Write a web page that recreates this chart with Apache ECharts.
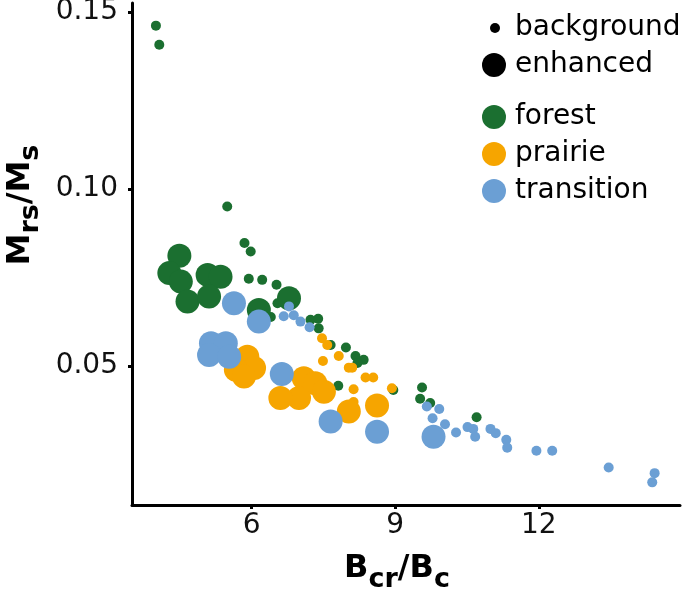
<!DOCTYPE html>
<html>
<head>
<meta charset="utf-8">
<script src="https://cdn.jsdelivr.net/npm/echarts@6/dist/echarts.min.js"></script>
<style>html,body{margin:0;padding:0;background:#fff}#c{width:685px;height:595px}</style>
</head>
<body>
<div id="c"></div>
<script>
// ---- data (x = Bcr/Bc, y = Mrs/Ms) ----
var forestBackground = [[4.00,0.1461],[4.07,0.1407],[5.49,0.0950],[5.85,0.0847],[5.98,0.0823],[5.94,0.0746],[6.22,0.0743],[6.52,0.0729],[6.54,0.0677],[6.40,0.0638],[7.23,0.0630],[7.39,0.0633],[7.40,0.0606],[7.65,0.0559],[7.97,0.0552],[8.17,0.0528],[8.34,0.0517],[8.21,0.0508],[7.81,0.0444],[8.96,0.0432],[9.56,0.0439],[9.52,0.0407],[9.73,0.0395],[10.70,0.0355]];
var forestEnhanced = [[4.49,0.0811],[4.28,0.0762],[4.52,0.0738],[4.66,0.0682],[5.08,0.0757],[5.35,0.0752],[5.11,0.0696],[6.15,0.0658],[6.78,0.0691]];
var prairieBackground = [[7.47,0.0578],[7.58,0.0559],[7.49,0.0514],[7.82,0.0528],[8.03,0.0495],[8.10,0.0495],[8.38,0.0467],[8.54,0.0467],[8.13,0.0434],[8.13,0.0398],[8.93,0.0437]];
var prairieEnhanced = [[5.91,0.0526],[6.05,0.0494],[5.67,0.0489],[5.84,0.0470],[7.09,0.0465],[7.33,0.0451],[7.51,0.0427],[6.99,0.0409],[6.60,0.0409],[8.03,0.0371],[8.62,0.0388]];
var transitionBackground = [[6.78,0.0668],[6.67,0.0640],[6.88,0.0643],[7.02,0.0625],[7.21,0.0609],[9.66,0.0385],[9.92,0.0378],[9.78,0.0352],[10.04,0.0335],[10.27,0.0312],[10.51,0.0327],[10.63,0.0322],[10.67,0.0300],[10.99,0.0322],[11.10,0.0310],[11.32,0.0291],[11.34,0.0269],[11.95,0.0260],[12.28,0.0260],[13.46,0.0213],[14.42,0.0197],[14.37,0.0171]];
var transitionEnhanced = [[5.63,0.0677],[6.15,0.0625],[5.15,0.0564],[5.46,0.0564],[5.11,0.0531],[5.53,0.0526],[6.63,0.0477],[7.65,0.0343],[8.62,0.0314],[9.80,0.0300]];
var habitats = ['forest','prairie','transition'];
var sizeLabels = ['background','enhanced'];
var xTicks = [6, 9, 12];
var yTicks = [0.05, 0.10, 0.15];

var colors = {forest:'#1b6f30', prairie:'#f6a500', transition:'#6b9fd4'};
var SMALL = 10, BIG = 24;
var FONT = '"DejaVu Sans", sans-serif';

function mk(name, data, size){
  return {type:'scatter', name:name, data:data, symbol:'circle', symbolSize:size,
    itemStyle:{color:colors[name], opacity:1}, emphasis:{disabled:true}, silent:true, z:2};
}
var series = [
  mk('forest', forestBackground, SMALL), mk('forest', forestEnhanced, BIG),
  mk('prairie', prairieBackground, SMALL), mk('prairie', prairieEnhanced, BIG),
  mk('transition', transitionBackground, SMALL), mk('transition', transitionEnhanced, BIG)
];
var titleRich = {
  b:{fontFamily:FONT, fontWeight:'bold', fontSize:32, color:'#000', lineHeight:40, verticalAlign:'top', padding:[0,0,4,0]},
  s:{fontFamily:FONT, fontWeight:'bold', fontSize:27, color:'#000', lineHeight:27, verticalAlign:'bottom'}
};

var chart = echarts.init(document.getElementById('c'), null, {renderer:'canvas'});
chart.setOption({
  animation:false,
  backgroundColor:'#fff',
  grid:{left:132, right:5, top:3, bottom:90, containLabel:false, outerBoundsMode:'none'},
  xAxis:{type:'value', min:3.5, max:14.95,
    name:'{b|B}{s|cr}{b|/B}{s|c}', nameLocation:'middle', nameGap:48,
    nameTextStyle:{rich:titleRich, padding:[0,18,0,0]},
    axisLine:{show:true, onZero:false, lineStyle:{color:'#000', width:3}},
    axisTick:{show:true, length:4, customValues:xTicks, lineStyle:{color:'#000', width:3}},
    axisLabel:{customValues:xTicks, fontFamily:FONT, fontSize:28, color:'#111', margin:7},
    splitLine:{show:false}},
  yAxis:{type:'value', min:0.0107, max:0.1525,
    name:'{b|M}{s|rs}{b|/M}{s|s}', nameLocation:'middle', nameGap:87,
    nameTextStyle:{rich:titleRich, padding:[0,0,0,98]},
    axisLine:{show:true, onZero:false, lineStyle:{color:'#000', width:3}},
    axisTick:{show:true, length:4, customValues:yTicks, lineStyle:{color:'#000', width:3}},
    axisLabel:{customValues:yTicks, fontFamily:FONT, fontSize:28, color:'#111', margin:14,
      formatter:function(v){return v.toFixed(2);}},
    splitLine:{show:false}},
  legend:{data:habitats, orient:'vertical', left:482, top:103, itemWidth:24, itemHeight:24, itemGap:9,
    icon:'circle', padding:0, selectedMode:false,
    textStyle:{fontFamily:FONT, fontSize:28, color:'#000', padding:[0,0,0,4]}},
  graphic:[
    {type:'circle', shape:{cx:495, cy:28, r:5}, style:{fill:'#000'}},
    {type:'text', x:515, y:28, style:{text:sizeLabels[0], font:'28px '+FONT, fill:'#000', verticalAlign:'middle'}},
    {type:'circle', shape:{cx:494, cy:65, r:12}, style:{fill:'#000'}},
    {type:'text', x:515, y:65, style:{text:sizeLabels[1], font:'28px '+FONT, fill:'#000', verticalAlign:'middle'}}
  ],
  series:series
});
</script>
</body>
</html>
